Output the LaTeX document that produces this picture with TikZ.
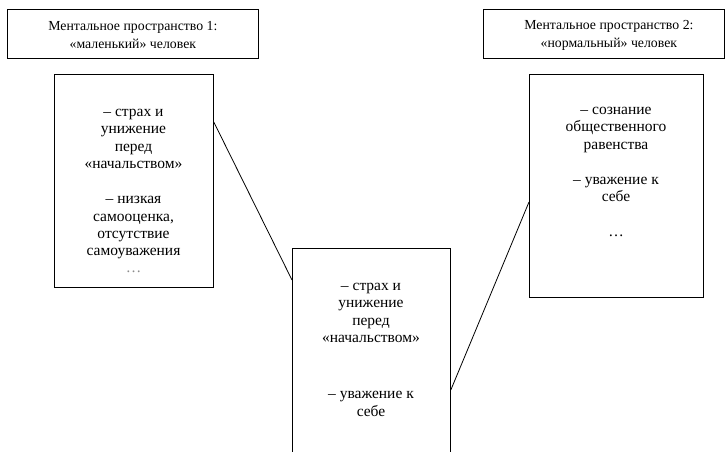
\documentclass[tikz,border=0pt]{standalone}
\usepackage{fontspec}
\setmainfont{Liberation Serif}
\newfontfamily\timesfont{Liberation Serif}
\usetikzlibrary{calc}
\tikzstyle{headbox}=[draw,line width=0.8pt,inner sep=0pt,anchor=north west,minimum height=49pt]
\tikzstyle{listbox}=[draw,line width=0.8pt,inner sep=0pt,anchor=north west]
\tikzstyle{headtext}=[align=center,inner sep=0pt,font=\timesfont\fontsize{13.8}{18}\selectfont]
\tikzstyle{listtext}=[align=center,inner sep=0pt,anchor=north,font=\timesfont\fontsize{15.5}{17.3}\selectfont]

\begin{document}
\begin{tikzpicture}[x=1pt,y=-1pt]
    \useasboundingbox (0,0) rectangle (725,451);
    % headers
    \node[headbox,minimum width=251pt] (h1) at (7,9) {};
    \node[headbox,minimum width=241pt] (h2) at (483,9) {};
    \node[headtext] (h1t) at ([yshift=-1pt]h1.center) {Ментальное пространство 1:\\«маленький» человек};
    \node[headtext] (h2t) at ([xshift=5pt,yshift=-1pt]h2.center) {Ментальное пространство 2:\\«нормальный» человек};

    % boxes
    \node[listbox,minimum width=159pt,minimum height=213pt] (lbox) at (54,74) {};
    \node[listbox,minimum width=158pt,minimum height=220pt] (mbox) at (292,248) {};
    \node[listbox,minimum width=174pt,minimum height=223pt] (rbox) at (529,74) {};

    \node[listtext] (ltext) at (133.5,109) {– страх и\\унижение\\перед\\«начальством»\\[18pt]
        – низкая\\самооценка,\\отсутствие\\самоуважения\\{\color{black!45}…}};
    \node[listtext] (mtext) at (371,283) {– страх и\\унижение\\перед\\«начальством»\\[39pt]
        – уважение к\\себе};
    \node[listtext] (rtext) at (616,107) {– сознание\\общественного\\равенства\\[18pt]
        – уважение к\\себе\\[17pt]…};

    % connectors
    \coordinate (lout) at ($(lbox.north east)+(0,48)$);
    \coordinate (min) at ($(mbox.north west)+(0,32)$);
    \coordinate (mout) at ($(mbox.north east)+(0,142)$);
    \coordinate (rin) at ($(rbox.north west)+(0,128)$);
    \foreach \from/\to in {lout/min,mout/rin}
    \draw[line width=0.8pt] (\from) -- (\to);
\end{tikzpicture}
\end{document}
